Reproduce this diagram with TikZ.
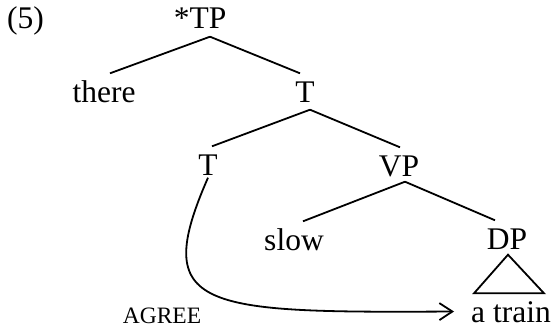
\documentclass[tikz,border=0pt]{standalone}
\usepackage{fontspec}
\setmainfont{Liberation Serif}
\usetikzlibrary{arrows.meta}
\begin{document}
\begin{tikzpicture}[x=1pt,y=-1pt,
  lab/.style={anchor=base,inner xsep=0pt,inner ysep=7.5pt,text height=21pt,text depth=0pt,font=\fontsize{31.5}{36}\selectfont},
  edge/.style={line width=1.8pt},
  agr/.style={line width=1.8pt,-{Straight Barb[length=13pt,width=17pt,line width=1.8pt]}}]
\useasboundingbox (0,0) rectangle (554,329);
\node[lab,anchor=base west] (num) at (7,29) {(5)};
\node[lab] (TP) at (208,29) {\llap{*}TP};
\node[lab] (there) at (104,102) {there};
\node[lab] (T1) at (305,102) {T};
\node[lab] (T2) at (208,175) {T};
\node[lab] (VP) at (399,176) {VP};
\node[lab] (slow) at (294,250) {slow};
\node[lab] (DP) at (507,249) {DP};
\node[lab] (atrain) at (511,322) {a train};
\node[anchor=base,inner sep=0pt,font=\fontsize{23.5}{28}\selectfont] (agree) at (162,323) {AGREE};
\draw[edge] ([xshift=2pt]TP.south) -- ([xshift=6pt]there.north);
\draw[edge] ([xshift=2pt]TP.south) -- ([xshift=-5pt]T1.north);
\draw[edge] ([xshift=5pt]T1.south) -- ([xshift=4pt]T2.north);
\draw[edge] ([xshift=5pt]T1.south) -- ([xshift=1pt]VP.north);
\draw[edge] ([xshift=6pt,yshift=2pt]VP.south) -- ([xshift=9pt]slow.north);
\draw[edge] ([xshift=6pt,yshift=2pt]VP.south) -- ([xshift=-12pt]DP.north);
\draw[edge,line join=miter] ([xshift=1pt,yshift=2pt]DP.south) -- ([xshift=-37pt]atrain.north) -- ([xshift=33pt]atrain.north) -- cycle;
\draw[agr] ([yshift=5pt]T2.south) .. controls (150,310) and (200,313) .. ([xshift=-17pt]atrain.west);
\end{tikzpicture}
\end{document}
